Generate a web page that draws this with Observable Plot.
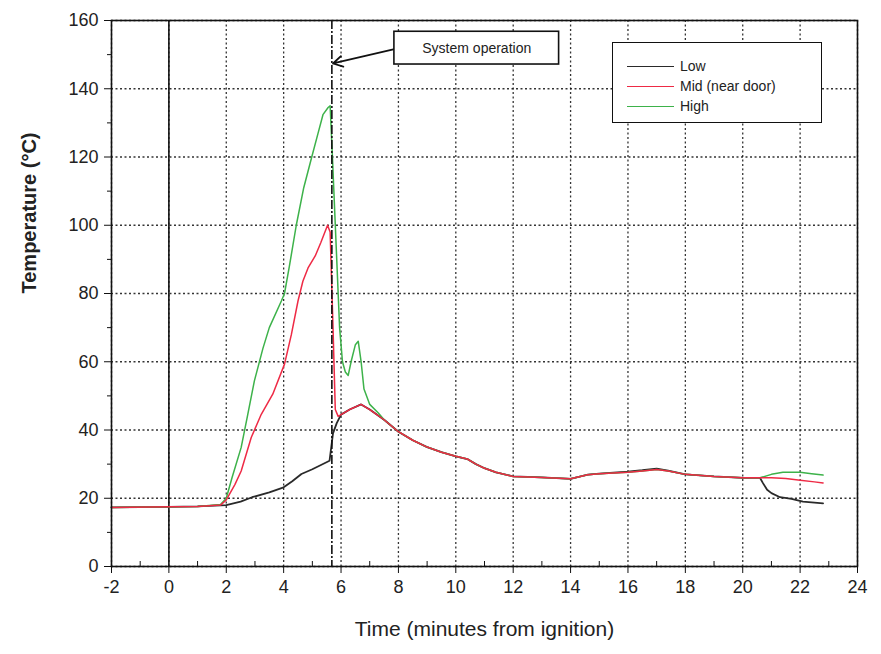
<!DOCTYPE html>
<html>
<head>
<meta charset="utf-8">
<script src="https://cdn.jsdelivr.net/npm/d3@7"></script>
<script src="https://cdn.jsdelivr.net/npm/@observablehq/plot@0.6"></script>
<style>
  body { margin: 0; background: #fff; font-family: "Liberation Sans", Arial, sans-serif; }
  #wrap { position: relative; width: 881px; height: 654px; }
  #legend { position: absolute; left: 612px; top: 42px; width: 208px; height: 79px;
            border: 1.5px solid #111; background: #fff; font-size: 14px; color: #222; }
  .row { position: absolute; left: 14px; height: 20px; display: flex; align-items: center; }
  .sw { width: 47px; height: 0; border-top: 1.6px solid; margin-right: 6px; }
</style>
</head>
<body>
<div id="wrap"></div>
<script>
// ---- data ----
const seriesNames = ["Low", "Mid (near door)", "High"];
const seriesColors = ["#2a2a2a", "#ee2a45", "#3db24a"];

const lowTime = [-2, 0, 1, 2, 2.5, 2.9, 3.5, 4.0, 4.3, 4.62, 5.0, 5.6, 5.72, 5.85, 6.0, 6.3, 6.7, 7.0, 7.5, 8.0, 8.5, 9.0, 9.5, 10.0, 10.4, 10.7, 11.0, 11.4, 12.0, 13.0, 14.0, 14.6, 15.0, 16.0, 16.5, 17.0, 17.4, 18.0, 19.0, 20.0, 20.6, 20.7, 20.85, 21.0, 21.3, 21.7, 22.1, 22.5, 22.8];
const lowTemp = [17.3, 17.5, 17.6, 18.0, 19.0, 20.3, 21.7, 23.2, 25.0, 27.1, 28.5, 31.0, 39.0, 42.0, 44.5, 46.0, 47.5, 46.0, 43.0, 39.5, 37.0, 35.0, 33.5, 32.3, 31.5, 30.0, 28.8, 27.6, 26.4, 26.1, 25.7, 26.9, 27.2, 27.8, 28.2, 28.7, 28.1, 27.0, 26.4, 26.0, 26.0, 24.5, 22.5, 21.5, 20.3, 19.8, 19.0, 18.7, 18.5];

const midTime = [-2, 0, 1, 1.8, 2.0, 2.3, 2.52, 2.87, 3.22, 3.62, 4.03, 4.27, 4.5, 4.67, 4.85, 5.1, 5.3, 5.53, 5.62, 5.72, 5.8, 5.9, 6.0, 6.3, 6.7, 7.0, 7.5, 8.0, 8.5, 9.0, 9.5, 10.0, 10.4, 10.7, 11.0, 11.4, 12.0, 13.0, 14.0, 14.6, 15.0, 16.0, 16.5, 17.0, 17.4, 18.0, 19.0, 20.0, 20.6, 21.0, 21.5, 22.0, 22.5, 22.8];
const midTemp = [17.3, 17.5, 17.6, 18.0, 19.5, 24.0, 28.0, 37.8, 44.6, 50.5, 59.3, 68.0, 77.8, 83.6, 87.5, 91.0, 95.0, 100.0, 98.0, 70.0, 46.0, 44.0, 44.5, 46.0, 47.5, 46.0, 43.0, 39.5, 37.0, 35.0, 33.5, 32.3, 31.5, 30.0, 28.8, 27.6, 26.4, 26.1, 25.7, 26.9, 27.2, 27.6, 28.0, 28.4, 28.0, 27.0, 26.4, 26.0, 26.0, 26.0, 25.8, 25.3, 24.8, 24.5];

const highTime = [-2, 0, 1, 1.8, 2.0, 2.2, 2.52, 2.75, 2.98, 3.28, 3.5, 3.92, 4.03, 4.2, 4.44, 4.7, 4.97, 5.2, 5.37, 5.55, 5.62, 5.7, 5.85, 5.95, 6.05, 6.15, 6.25, 6.35, 6.5, 6.6, 6.7, 6.8, 7.0, 7.3, 7.5, 8.0, 8.5, 9.0, 9.5, 10.0, 10.4, 10.7, 11.0, 11.4, 12.0, 13.0, 14.0, 14.6, 15.0, 16.0, 16.5, 17.0, 17.4, 18.0, 19.0, 20.0, 20.6, 21.0, 21.4, 22.0, 22.4, 22.8];
const highTemp = [17.3, 17.5, 17.6, 18.2, 20.0, 26.0, 34.9, 44.6, 54.4, 64.0, 70.0, 77.8, 80.0, 88.0, 100.0, 111.0, 119.7, 127.0, 132.4, 134.5, 135.0, 120.0, 90.0, 70.0, 60.0, 57.0, 56.0, 60.0, 65.0, 66.0, 60.0, 52.0, 47.5, 45.0, 43.0, 39.5, 37.0, 35.0, 33.5, 32.3, 31.5, 30.0, 28.8, 27.6, 26.4, 26.1, 25.7, 26.9, 27.2, 27.6, 28.0, 28.4, 28.0, 27.0, 26.4, 26.0, 26.0, 27.0, 27.6, 27.6, 27.2, 26.8];

const xMajorTicks = d3.range(-2, 25, 2);
const xMinorTicks = d3.range(-1, 24, 2);
const yMajorTicks = d3.range(0, 161, 20);
const yMinorTicks = d3.range(10, 160, 20);

const ignitionTime = [0];
const systemOperationTime = [5.68];
const annotationText = ["System operation"];
const annotationBox = [{x1: 7.86, x2: 13.6, y1: 147.1, y2: 156.7}];
const annotationArrow = [{x1: 7.86, y1: 151.6, x2: 5.72, y2: 147.4}];

const xLabel = "Time (minutes from ignition)";
const yLabel = "Temperature (°C)";

// ---- build table ----
const rows = [];
[[lowTime, lowTemp], [midTime, midTemp], [highTime, highTemp]].forEach(([t, v], i) => {
  t.forEach((tt, j) => rows.push({series: seriesNames[i], t: tt, v: v[j]}));
});
const bySeries = name => rows.filter(r => r.series === name);

const font = "'Liberation Sans', Arial, sans-serif";
const plain = d => String(d);
const chart = Plot.plot({
  width: 881,
  height: 654,
  marginLeft: 111,
  marginRight: 24,
  marginTop: 20,
  marginBottom: 88,
  style: {fontFamily: font, background: "#fff", color: "#222"},
  x: {domain: [-2, 24]},
  y: {domain: [0, 160]},
  color: {domain: seriesNames, range: seriesColors},
  marks: [
    Plot.gridX(xMajorTicks, {stroke: "#111", strokeOpacity: 0.85, strokeWidth: 1.3, strokeDasharray: "2,2.5"}),
    Plot.gridY(yMajorTicks, {stroke: "#111", strokeOpacity: 0.85, strokeWidth: 1.3, strokeDasharray: "2,2.5"}),
    Plot.ruleX(ignitionTime, {stroke: "#111", strokeWidth: 1.6}),
    Plot.line(bySeries("Low"), {x: "t", y: "v", stroke: "series", strokeWidth: 1.8}),
    Plot.line(bySeries("High"), {x: "t", y: "v", stroke: "series", strokeWidth: 1.5}),
    Plot.line(bySeries("Mid (near door)"), {x: "t", y: "v", stroke: "series", strokeWidth: 1.5}),
    Plot.ruleX(systemOperationTime, {stroke: "#111", strokeWidth: 1.6, strokeDasharray: "9,2,2,2"}),
    Plot.arrow(annotationArrow, {x1: "x1", y1: "y1", x2: "x2", y2: "y2", stroke: "#111", strokeWidth: 1.8, headLength: 9}),
    Plot.rect(annotationBox, {x1: "x1", x2: "x2", y1: "y1", y2: "y2", fill: "#fff", stroke: "#111", strokeWidth: 1.6}),
    Plot.text(annotationText, {x: d => (annotationBox[0].x1 + annotationBox[0].x2) / 2, y: d => (annotationBox[0].y1 + annotationBox[0].y2) / 2, fontSize: 14, fill: "#222"}),
    Plot.axisX(xMajorTicks, {tickSize: 7, tickPadding: 7, fontSize: 18, label: null, stroke: "#111", tickFormat: plain}),
    Plot.axisX(xMinorTicks, {tickSize: -5, text: null, label: null, stroke: "#111"}),
    Plot.axisY(yMajorTicks, {tickSize: 7, tickPadding: 6, fontSize: 18, label: null, stroke: "#111", tickFormat: plain}),
    Plot.axisY(yMinorTicks, {tickSize: 4, text: null, label: null, stroke: "#111"}),
    Plot.frame({stroke: "#111", strokeWidth: 1.6}),
    Plot.text([xLabel], {frameAnchor: "bottom", dy: 69, fontSize: 21, fill: "#222"}),
    Plot.text([yLabel], {frameAnchor: "left", dx: -82, rotate: -90, fontSize: 20, fontWeight: "bold", fill: "#222"})
  ]
});
const wrap = document.getElementById("wrap");
wrap.appendChild(chart);

// legend inside the plot area
const legend = document.createElement("div");
legend.id = "legend";
seriesNames.forEach((name, i) => {
  const row = document.createElement("div");
  row.className = "row";
  row.style.top = (13 + i * 20) + "px";
  const sw = document.createElement("span");
  sw.className = "sw";
  sw.style.borderTopColor = seriesColors[i];
  const lab = document.createElement("span");
  lab.textContent = name;
  row.appendChild(sw);
  row.appendChild(lab);
  legend.appendChild(row);
});
wrap.appendChild(legend);
</script>
</body>
</html>
